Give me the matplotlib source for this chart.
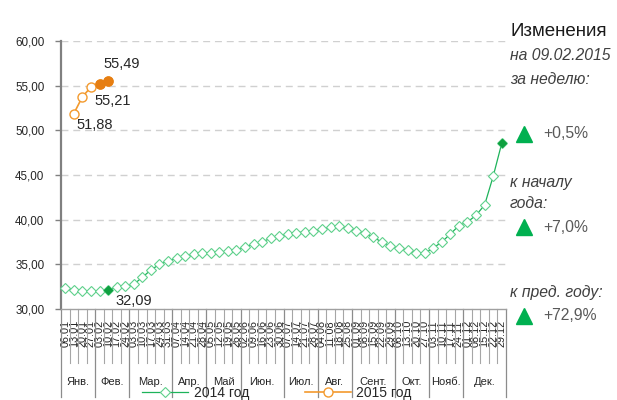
import matplotlib
matplotlib.use("Agg")
import matplotlib.pyplot as plt
from matplotlib.lines import Line2D
from matplotlib import transforms

plt.rcParams['font.family'] = ['Liberation Sans', 'DejaVu Sans']

# ---------------- data ----------------
dates = ["06.01", "13.01", "20.01", "27.01", "03.02", "10.02", "17.02", "24.02",
         "03.03", "10.03", "17.03", "24.03", "31.03", "07.04", "14.04", "21.04",
         "28.04", "05.05", "12.05", "19.05", "26.05", "02.06", "09.06", "16.06",
         "23.06", "30.06", "07.07", "14.07", "21.07", "28.07", "04.08", "11.08",
         "18.08", "25.08", "01.09", "08.09", "15.09", "22.09", "29.09", "06.10",
         "13.10", "20.10", "27.10", "03.11", "10.11", "17.11", "24.11", "01.12",
         "08.12", "15.12", "22.12", "29.12"]
months = ["Янв.", "Фев.", "Мар.", "Апр.", "Май", "Июн.", "Июл.", "Авг.",
          "Сент.", "Окт.", "Нояб.", "Дек."]
weeks_per_month = [4, 4, 5, 4, 4, 5, 4, 4, 5, 4, 4, 5]

values_2014 = [32.38, 32.13, 31.98, 32.00, 32.00, 32.09, 32.43, 32.54,
               32.76, 33.55, 34.36, 35.00, 35.37, 35.67, 35.93, 36.15,
               36.27, 36.30, 36.38, 36.45, 36.60, 36.90, 37.27, 37.53,
               37.90, 38.20, 38.45, 38.54, 38.63, 38.73, 38.95, 39.18,
               39.25, 39.03, 38.77, 38.47, 38.02, 37.50, 37.05, 36.80,
               36.60, 36.30, 36.23, 36.83, 37.50, 38.40, 39.33, 39.74,
               40.49, 41.64, 44.85, 48.54]
idx_2015 = [1, 2, 3, 4, 5]
values_2015 = [51.88, 53.75, 54.85, 55.21, 55.49]

yticks = [30, 35, 40, 45, 50, 55, 60]

# ---------------- figure ----------------
W, H = 617, 400
fig = plt.figure(figsize=(W / 100, H / 100), dpi=100)
ax_left, ax_right, ax_top, ax_bottom = 61, 506, 41, 309
ax = fig.add_axes([ax_left / W, 1 - ax_bottom / H, (ax_right - ax_left) / W,
                   (ax_bottom - ax_top) / H])
ax_h = ax_bottom - ax_top

green_line = '#1DB35A'
green_mk = '#5FD08C'
green_fill = '#0FA040'
orange = '#F39A2E'
orange_fill = '#E67E12'

x2014 = list(range(len(values_2014)))
ax.plot(x2014, values_2014, color=green_line, lw=0.9, marker='D', ms=5.5,
        mfc='white', mec=green_mk, mew=0.8, zorder=3, clip_on=False)
for i in (5, 51):
    ax.plot([x2014[i]], [values_2014[i]], marker='D', ms=4.5, color=green_fill,
            zorder=4, clip_on=False)

ax.plot(idx_2015, values_2015, color=orange, lw=1.2, marker='o', ms=6.5,
        mfc='white', mec=orange, mew=1.0, zorder=3)
ax.plot(idx_2015[-2:], values_2015[-2:], ls='none', marker='o', ms=6.5,
        color=orange_fill, zorder=4)

# data labels
lab_kw = dict(fontsize=10.5, color='#262626')
ax.annotate("55,49", (idx_2015[4], values_2015[4]), xytext=(14, 17),
            textcoords='offset pixels', ha='center', va='center', **lab_kw)
ax.annotate("55,21", (idx_2015[3], values_2015[3]), xytext=(13, -17),
            textcoords='offset pixels', ha='center', va='center', **lab_kw)
ax.annotate("51,88", (idx_2015[0], values_2015[0]), xytext=(21, -11),
            textcoords='offset pixels', ha='center', va='center', **lab_kw)
ax.annotate("32,09", (x2014[5], values_2014[5]), xytext=(26, -11),
            textcoords='offset pixels', ha='center', va='center', **lab_kw)

# axes styling
ax.set_xlim(-0.5, len(dates) - 0.5)
ax.set_ylim(30, 60)
ax.set_yticks(yticks)
ax.set_yticklabels([f"{v:.2f}".replace('.', ',') for v in yticks])
ax.tick_params(axis='y', length=4, width=1, color='#808080', labelsize=8.4,
               labelcolor='#262626', pad=8)
for v in yticks[1:]:
    ax.axhline(v, color='#D0D0D0', lw=1, ls=(0, (5, 3.5)), zorder=1)
for s in ('top', 'right'):
    ax.spines[s].set_visible(False)
ax.spines['left'].set_color('#808080')
ax.spines['left'].set_linewidth(1.6)
ax.spines['bottom'].set_color('#A0A0A0')
ax.spines['bottom'].set_linewidth(1.0)

ax.set_xticks(x2014)
ax.set_xticklabels(dates, rotation=90, va='top', ha='center')
ax.tick_params(axis='x', length=0, labelsize=7.8, labelcolor='#262626', pad=8)

# category boundary lines & month separators
trans = transforms.blended_transform_factory(ax.transData, ax.transAxes)
short_y = -(363 - ax_bottom) / ax_h
long_y = -(397 - ax_bottom) / ax_h
bounds = [i - 0.5 for i in range(len(dates) + 1)]
month_edges = [-0.5]
for n in weeks_per_month:
    month_edges.append(month_edges[-1] + n)
for b in bounds:
    if b in month_edges:
        continue
    ax.add_line(Line2D([b, b], [0, short_y], transform=trans, color='#A6A6A6',
                       lw=0.8, clip_on=False))
for b in month_edges:
    ax.add_line(Line2D([b, b], [0, long_y], transform=trans, color='#8C8C8C',
                       lw=0.9, clip_on=False))
month_y = -(382 - ax_bottom) / ax_h
for k, m in enumerate(months):
    cx = (month_edges[k] + month_edges[k + 1]) / 2
    ax.text(cx, month_y, m, transform=trans, ha='center', va='center',
            fontsize=8, color='#262626')

# legend
handles = [Line2D([], [], color=green_line, lw=0.9, marker='D', ms=5.5,
                  mfc='white', mec=green_mk, mew=0.8),
           Line2D([], [], color=orange, lw=1.2, marker='o', ms=6.5,
                  mfc='white', mec=orange, mew=1.0)]
fig.legend(handles, ["2014 год", "2015 год"], loc='center',
           bbox_to_anchor=(277 / W, 1 - 393 / H), ncol=2, frameon=False,
           fontsize=10, handlelength=3.3, columnspacing=4.0,
           handletextpad=0.4, labelcolor='#262626', borderpad=0.1)

# right-side annotations
def fy(py):
    return 1 - py / H

fig.text(510 / W, fy(32), "Изменения", fontsize=13.5, color='#1A1A1A',
         ha='left', va='center')
it = dict(fontsize=11.3, style='italic', color='#404040', ha='left', va='center')
fig.text(510 / W, fy(55), "на 09.02.2015", **it)
fig.text(510 / W, fy(79), "за неделю:", **it)
fig.text(510 / W, fy(182), "к началу", **it)
fig.text(510 / W, fy(204), "года:", **it)
fig.text(510 / W, fy(293), "к пред. году:", **it)

pct = dict(fontsize=11.3, color='#595959', ha='left', va='center')
for py, t in ((134, "+0,5%"), (227, "+7,0%"), (316, "+72,9%")):
    fig.add_artist(Line2D([524 / W], [fy(py)], marker='^', ms=11.5,
                          color='#00B050', transform=fig.transFigure, ls='none'))
    fig.text(543 / W, fy(py), t, **pct)

fig.savefig("out.png", dpi=100)
